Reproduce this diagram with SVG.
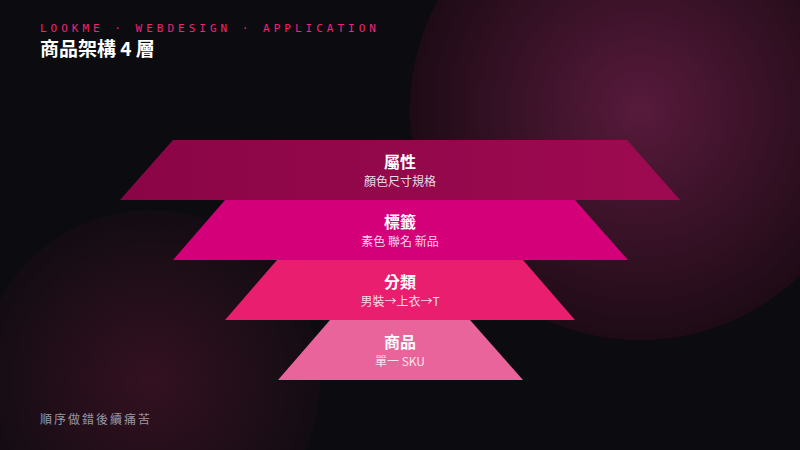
<svg xmlns="http://www.w3.org/2000/svg" width="800" height="450" viewBox="0 0 800 450">
<defs>
<radialGradient id="g1" cx="0.5" cy="0.5" r="0.5">
<stop offset="0" stop-color="#581a3b"/>
<stop offset="1" stop-color="#1e0b16"/>
</radialGradient>
<radialGradient id="g2" cx="0.5" cy="0.5" r="0.5">
<stop offset="0" stop-color="#341120"/>
<stop offset="1" stop-color="#130c12"/>
</radialGradient>
<linearGradient id="l1" x1="0" y1="0" x2="1" y2="0">
<stop offset="0" stop-color="#8a0546"/>
<stop offset="1" stop-color="#9e0a51"/>
</linearGradient>
<style>
.t{font-family:"Noto Sans CJK TC","Noto Sans",sans-serif;font-weight:700;font-size:16px;fill:#fff;text-anchor:middle}
.s{font-family:"Noto Sans CJK TC","Noto Sans",sans-serif;font-size:12px;fill:#fff;fill-opacity:0.85;text-anchor:middle}
</style>
</defs>
<rect width="800" height="450" fill="#0c0b10"/>
<circle cx="640" cy="110" r="230" fill="url(#g1)"/>
<circle cx="150" cy="380" r="170" fill="url(#g2)"/>
<text x="40" y="32" font-family="'DejaVu Sans Mono',monospace" font-size="11" letter-spacing="4" fill="#f0247a">LOOKME · WEBDESIGN · APPLICATION</text>
<text x="40" y="56" font-family="'Noto Sans CJK TC',sans-serif" font-weight="700" font-size="19" fill="#fff">商品架構 4 層</text>
<g id="layer1">
<polygon points="173,140 627,140 680,200 120,200" fill="url(#l1)"/>
<text class="t" x="400" y="168">屬性</text>
<text class="s" x="400" y="186">顏色尺寸規格</text>
</g>
<g id="layer2">
<polygon points="225,200 575,200 628,260 173,260" fill="#d3007a"/>
<text class="t" x="400" y="228">標籤</text>
<text class="s" x="400" y="246">素色 聯名 新品</text>
</g>
<g id="layer3">
<polygon points="277,260 523,260 575,320 225,320" fill="#e91e6e"/>
<text class="t" x="400" y="288">分類</text>
<text class="s" x="400" y="306">男裝→上衣→T</text>
</g>
<g id="layer4">
<polygon points="330,320 470,320 523,380 278,380" fill="#e8649a"/>
<text class="t" x="400" y="348">商品</text>
<text class="s" x="400" y="366">單一 SKU</text>
</g>
<g id="connectors"/>
<text x="40" y="424" font-family="'Noto Sans CJK TC',sans-serif" font-size="12" letter-spacing="2" fill="#9a98a4">順序做錯後續痛苦</text>
</svg>
